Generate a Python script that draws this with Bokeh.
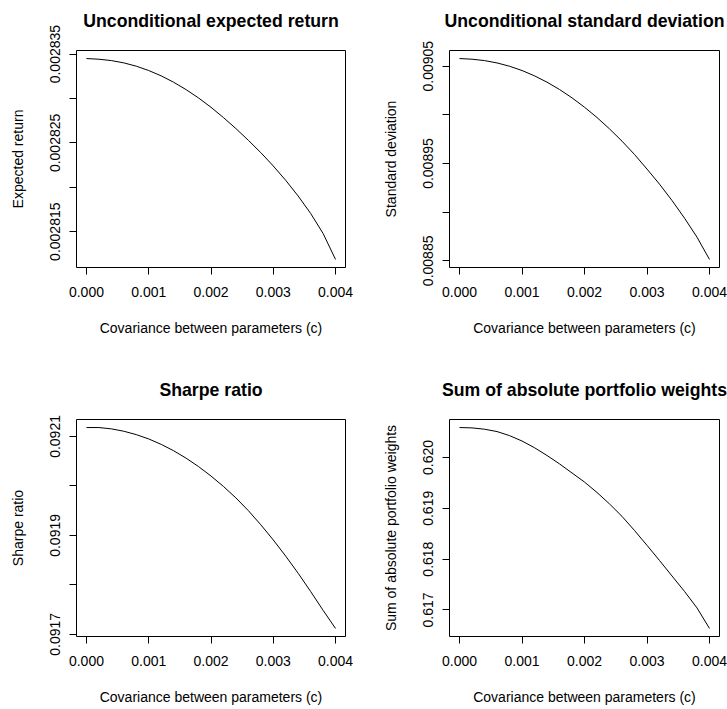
from bokeh.plotting import figure
from bokeh.layouts import column, row
from bokeh.models import FixedTicker, Range1d, Title
from bokeh.embed import file_html
from bokeh.resources import INLINE

# Covariance between parameters (c)
cov = [0.0000, 0.0002, 0.0004, 0.0006, 0.0008, 0.0010, 0.0012, 0.0014, 0.0016, 0.0018,
       0.0020, 0.0022, 0.0024, 0.0026, 0.0028, 0.0030, 0.0032, 0.0034, 0.0036, 0.0038, 0.0040]

exp_return = [0.0028345, 0.00283442, 0.00283427, 0.00283401, 0.00283364, 0.00283315, 0.00283255,
              0.00283183, 0.00283100, 0.00283006, 0.00282901, 0.00282785, 0.00282661, 0.00282529,
              0.00282390, 0.00282240, 0.00282078, 0.00281901, 0.00281706, 0.00281480, 0.00281187]

std_dev = [0.0090579, 0.0090572, 0.0090558, 0.0090534, 0.0090500, 0.0090456, 0.0090401,
           0.0090336, 0.0090261, 0.0090175, 0.0090079, 0.0089973, 0.0089856, 0.0089730,
           0.0089593, 0.0089443, 0.0089288, 0.0089120, 0.0088939, 0.0088743, 0.0088514]

sharpe = [0.092118, 0.092118, 0.0921153, 0.0921105, 0.0921037, 0.0920949, 0.0920840,
          0.0920711, 0.0920561, 0.0920391, 0.0920200, 0.0919989, 0.0919758, 0.0919500,
          0.0919214, 0.0918908, 0.0918581, 0.0918234, 0.0917867, 0.0917486, 0.0917119]

abs_weights = [0.620589, 0.620582, 0.620556, 0.620510, 0.620430, 0.620324, 0.620192,
               0.620039, 0.619874, 0.619695, 0.619516, 0.619311, 0.619086, 0.618841,
               0.618563, 0.618271, 0.617973, 0.617668, 0.617364, 0.617039, 0.616635]

x_ticks = [0.000, 0.001, 0.002, 0.003, 0.004]
x_tick_labels = ["0.000", "0.001", "0.002", "0.003", "0.004"]

er_ticks = [0.002815, 0.002820, 0.002825, 0.002830, 0.002835]
er_tick_labels = ["0.002815", "", "0.002825", "", "0.002835"]

sd_ticks = [0.00885, 0.00890, 0.00895, 0.00900, 0.00905]
sd_tick_labels = ["0.00885", "", "0.00895", "", "0.00905"]

sr_ticks = [0.0917, 0.0918, 0.0919, 0.0920, 0.0921]
sr_tick_labels = ["0.0917", "", "0.0919", "", "0.0921"]

aw_ticks = [0.617, 0.618, 0.619, 0.620]
aw_tick_labels = ["0.617", "0.618", "0.619", "0.620"]

FONT = "Liberation Sans"


def padded(vals):
    lo, hi = min(vals), max(vals)
    pad = 0.04 * (hi - lo)
    return Range1d(lo - pad, hi + pad)


def panel(y, title, ylabel, yticks, ylabels, width, height, bl, br, bt, bb):
    p = figure(width=width, height=height, output_backend="svg", toolbar_location=None,
               x_range=padded(cov), y_range=padded(y),
               min_border_left=bl, min_border_right=br, min_border_top=bt, min_border_bottom=bb)
    p.line(cov, y, line_color="black", line_width=1)
    p.xgrid.visible = False
    p.ygrid.visible = False
    p.outline_line_color = "black"
    p.outline_line_width = 1
    p.background_fill_color = "white"
    p.border_fill_color = "white"

    # blank spacer between the frame and the title (R puts the main title well above the box)
    p.add_layout(Title(text=" ", text_font_size="2px", standoff=14), "above")
    p.add_layout(Title(text=title, text_font=FONT, text_font_size="17.7px",
                       text_font_style="bold", text_color="black", align="center",
                       vertical_align="bottom", standoff=4), "above")

    p.xaxis.ticker = FixedTicker(ticks=x_ticks)
    p.xaxis.major_label_overrides = {t: s for t, s in zip(x_ticks, x_tick_labels)}
    p.yaxis.ticker = FixedTicker(ticks=yticks)
    p.yaxis.major_label_overrides = {t: s for t, s in zip(yticks, ylabels)}
    p.yaxis.major_label_orientation = "vertical"

    for ax in (p.xaxis[0], p.yaxis[0]):
        ax.axis_line_color = None
        ax.minor_tick_line_color = None
        ax.major_tick_line_color = "black"
        ax.major_tick_out = 7
        ax.major_tick_in = 0
        ax.major_label_text_font = FONT
        ax.major_label_text_font_size = "14px"
        ax.major_label_text_color = "black"
        ax.axis_label_text_font = FONT
        ax.axis_label_text_font_size = "14px"
        ax.axis_label_text_font_style = "normal"
        ax.axis_label_text_color = "black"

    p.xaxis.axis_label = "Covariance between parameters (c)"
    p.xaxis.major_label_standoff = 12
    p.xaxis.axis_label_standoff = 20
    p.yaxis.axis_label = ylabel
    p.yaxis.major_label_standoff = 9
    p.yaxis.axis_label_standoff = 22
    return p


p1 = panel(exp_return, "Unconditional expected return", "Expected return",
           er_ticks, er_tick_labels, 368, 369, 76, 23, 50, 102)
p2 = panel(std_dev, "Unconditional standard deviation", "Standard deviation",
           sd_ticks, sd_tick_labels, 359, 369, 81, 8, 50, 102)
p3 = panel(sharpe, "Sharpe ratio", "Sharpe ratio",
           sr_ticks, sr_tick_labels, 368, 340, 76, 23, 50, 73)
p4 = panel(abs_weights, "Sum of absolute portfolio weights", "Sum of absolute portfolio weights",
           aw_ticks, aw_tick_labels, 359, 340, 81, 8, 50, 73)

layout = column(row(p1, p2, spacing=0), row(p3, p4, spacing=0), spacing=0)

open("out.html", "w").write(file_html(layout, INLINE))
